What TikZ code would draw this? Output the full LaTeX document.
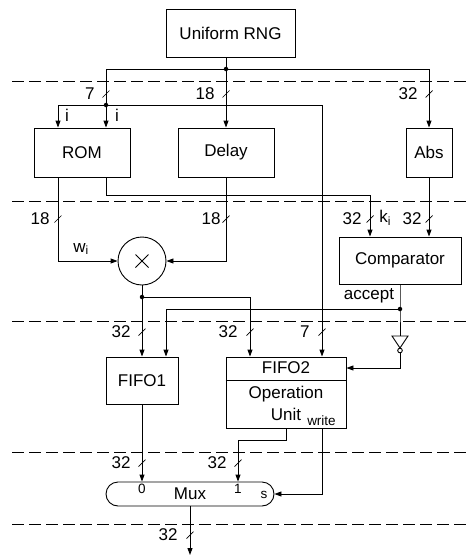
\documentclass[tikz,border=0pt]{standalone}
\usepackage{fontspec}
\setmainfont{Liberation Sans}
\usetikzlibrary{arrows.meta}
\begin{document}
\begin{tikzpicture}[x=1pt,y=-1pt,line width=0.9pt,
  box/.style={draw,rectangle,inner sep=0pt,font=\fontsize{17}{20}\selectfont},
  lbl/.style={inner sep=0pt,font=\fontsize{17}{20}\selectfont},
  sml/.style={inner sep=0pt,font=\fontsize{13.5}{16}\selectfont},
  arr/.style={-{Triangle[length=7pt,width=5pt]}},
  sep/.style={dashed,dash pattern=on 12pt off 5pt,line width=0.8pt},
  dot/.style={circle,fill,inner sep=0pt,minimum size=4.5pt}]
\useasboundingbox (0,0) rectangle (468,557);
% separators
\foreach \yy in {81,201,321,452,524} \draw[sep] (12,\yy) -- (468,\yy);
% blocks
\node[box,minimum width=129pt,minimum height=48pt] (rng) at (230.5,33) {Uniform RNG};
\node[box,minimum width=96pt,minimum height=49pt] (rom) at (82,152.5) {ROM};
\node[box,minimum width=96pt,minimum height=49pt] (delay) at (226,152.5) {Delay};
\node[box,minimum width=46pt,minimum height=49pt] (abs) at (429,152.5) {Abs};
\node[box,minimum width=122pt,minimum height=47pt] (comp) at (400,260.5) {Comparator};
\node[draw,circle,minimum size=48pt,inner sep=0pt] (mult) at (142,261) {};
\draw (mult.center) ++(-6.5,-6.5) -- ++(13,13);
\draw (mult.center) ++(-6.5,6.5) -- ++(13,-13);
\node[box,minimum width=72pt,minimum height=47pt] (fifo1) at (142,380.5) {FIFO1};
\node[box,minimum width=120pt,minimum height=71pt] (fifo2) at (286,392.5) {};
\draw (fifo2.west |- 0,380) -- (fifo2.east |- 0,380);
\node[lbl] (f2t) at (286,368) {FIFO2};
\node[lbl] (opt) at (286,394) {Operation};
\node[lbl] (unt) at (286,414) {Unit};
\node[sml] (wrt) at (321.5,421) {write};
\node[draw,rounded corners=12pt,minimum width=168pt,minimum height=24pt,inner sep=0pt] (mux) at (190,494) {};
\node[lbl] (muxt) at (190,494) {Mux};
\node[sml] (m0) at (142,489) {0};
\node[sml] (m1) at (238,489) {1};
\node[sml] (ms) at (264,495) {s};
% inverter
\coordinate (invin) at (400,336);
\coordinate (invout) at (400,353);
\draw (392,336) -- (408,336) -- (400,348) -- cycle;
\draw (400,350.5) circle (2.3pt);
% junctions
\coordinate (j1) at (226,69);
\coordinate (j2) at (106,105);
\coordinate (j3) at (142,297);
\coordinate (j4) at (400,309);
\coordinate (out) at (190,555);
% connectors
\draw (j1 |- rng.south) -- (j1);
\draw[arr] (j1) -- (j1 |- delay.north);
\draw (j1) -| (j2);
\draw[arr] (j1) -| (abs.north);
\draw[arr] (j2) -- ([xshift=24pt]rom.north);
\draw[arr] (j2) -| ([xshift=-24pt]rom.north);
\draw[arr] (j2) -| ([xshift=36pt]fifo2.north);
\draw[arr] ([xshift=-24pt]rom.south) |- (mult.west);
\draw[arr] ([xshift=24pt]rom.south) -- ++(0,18) -| ([xshift=-30pt]comp.north);
\draw[arr] (delay.south) |- (mult.east);
\draw[arr] (abs.south) -- (abs.south |- comp.north);
\draw[arr] (mult.south) -- (mult.south |- fifo1.north);
\draw[arr] (j3) -| ([xshift=-36pt]fifo2.north);
\draw (comp.south) -- (j4) -- (invin);
\draw[arr] (j4) -| ([xshift=24pt]fifo1.north);
\draw[arr] (invout) |- ([yshift=24.5pt]fifo2.east);
\draw[arr] (fifo1.south) -- (fifo1.south |- mux.north);
\draw[arr] (fifo2.south) -- ++(0,12) -| ([xshift=48pt]mux.north);
\draw[arr] ([xshift=36pt]fifo2.south) |- (mux.east);
\draw[arr] (mux.south) -- (out);
\foreach \p in {j1,j2,j3,j4} \node[dot] at (\p) {};
% bus width marks
\newcommand\busmark[4]{\draw[line width=0.7pt] (#1-3.5,#2+3.5) -- (#1+3.5,#2-3.5);
  \node[lbl,anchor=east] at (#1-#3,#2) {#4};}
\busmark{106}{94}{11}{7}
\busmark{226}{94}{11}{18}
\busmark{429}{94}{11}{32}
\busmark{58}{219}{8}{18}
\busmark{226}{219}{5}{18}
\busmark{370}{219}{8}{32}
\busmark{429}{219}{7}{32}
\busmark{142}{332}{11}{32}
\busmark{250}{332}{12}{32}
\busmark{322}{332}{12}{7}
\busmark{142}{463}{11}{32}
\busmark{238}{463}{11}{32}
\busmark{190}{535}{12}{32}
% signal labels
\node[lbl] (li1) at (67,115) {i};
\node[lbl] (li2) at (117,115) {i};
\node[lbl] (lw) at (81,249) {w\textsubscript{i}};
\node[lbl,anchor=west] (lk) at (379,218) {k\textsubscript{i}};
\node[lbl] (lacc) at (369,296) {accept};
\end{tikzpicture}
\end{document}
